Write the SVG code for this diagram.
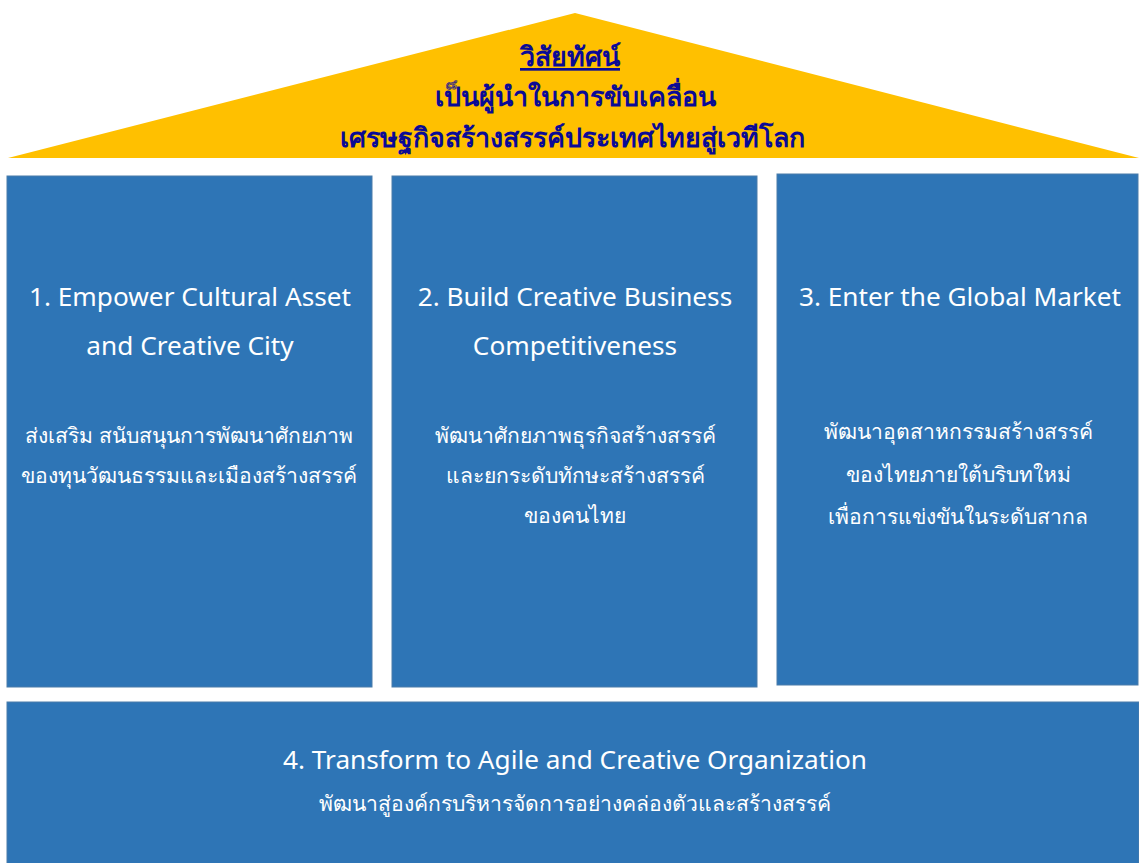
<svg xmlns="http://www.w3.org/2000/svg" width="1139" height="863" viewBox="0 0 1139 863">
<style>
.box{fill:#2E75B6;stroke:#4A7DAA;stroke-width:1}
.en{font-family:"Noto Sans","Open Sans",sans-serif;font-size:26.2px;fill:#fff;text-anchor:middle}
.th{font-family:"Noto Sans","DejaVu Sans",sans-serif;font-size:21.1px;fill:#fff;text-anchor:middle}
.title{font-family:"Noto Sans","DejaVu Sans",sans-serif;font-size:26.8px;font-weight:bold;fill:#0A0A96;text-anchor:middle}
</style>
<rect width="1139" height="863" fill="#fff"/>
<g id="roof">
<polygon points="8,158 575,13 1139,158" fill="#FFC000"/>
<text class="title" x="570" y="66" text-decoration="underline">วิสัยทัศน์</text>
<text class="title" x="575" y="106">เป็นผู้นำในการขับเคลื่อน</text>
<text class="title" x="572" y="147">เศรษฐกิจสร้างสรรค์ประเทศไทยสู่เวทีโลก</text>
</g>
<g id="pillar1">
<rect class="box" x="7" y="176" width="365" height="511"/>
<text class="en" x="190" y="306">1. Empower Cultural Asset</text>
<text class="en" x="190" y="355">and Creative City</text>
<text class="th" x="189" y="443">ส่งเสริม สนับสนุนการพัฒนาศักยภาพ</text>
<text class="th" x="189" y="483">ของทุนวัฒนธรรมและเมืองสร้างสรรค์</text>
</g>
<g id="pillar2">
<rect class="box" x="392" y="176" width="365" height="511"/>
<text class="en" x="575" y="306">2. Build Creative Business</text>
<text class="en" x="575" y="355">Competitiveness</text>
<text class="th" x="575" y="443">พัฒนาศักยภาพธุรกิจสร้างสรรค์</text>
<text class="th" x="575" y="483">และยกระดับทักษะสร้างสรรค์</text>
<text class="th" x="575" y="523">ของคนไทย</text>
</g>
<g id="pillar3">
<rect class="box" x="777" y="174" width="361" height="511"/>
<text class="en" x="960" y="306">3. Enter the Global Market</text>
<text class="th" x="958" y="439">พัฒนาอุตสาหกรรมสร้างสรรค์</text>
<text class="th" x="958" y="482">ของไทยภายใต้บริบทใหม่</text>
<text class="th" x="958" y="524">เพื่อการแข่งขันในระดับสากล</text>
</g>
<g id="foundation">
<rect class="box" x="7" y="702" width="1132" height="165"/>
<text class="en" x="575" y="769">4. Transform to Agile and Creative Organization</text>
<text class="th" x="575" y="811">พัฒนาสู่องค์กรบริหารจัดการอย่างคล่องตัวและสร้างสรรค์</text>
</g>
<g id="connectors"/>
</svg>
